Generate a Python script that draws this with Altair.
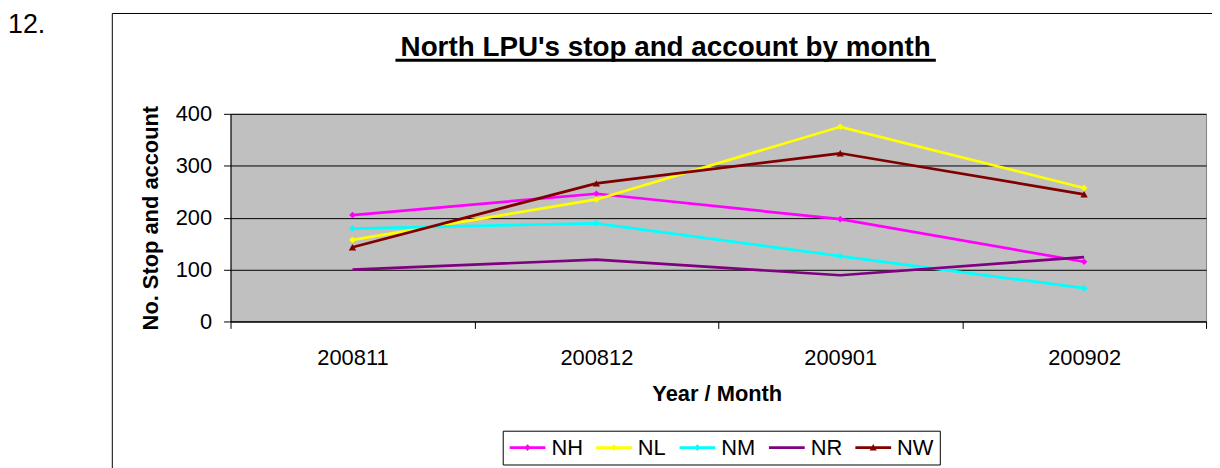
import altair as alt
import pandas as pd

# ---- data ----
months = ["200811", "200812", "200901", "200902"]
series = ["NH", "NL", "NM", "NR", "NW"]
NH = [205, 246, 197, 115]
NL = [157, 235, 375, 257]
NM = [179, 189, 126, 64]
NR = [100, 119, 89, 124]
NW = [143, 266, 324, 245]
colors = ["#FF00FF", "#FFFF00", "#00FFFF", "#800080", "#800000"]
y_ticks = [0, 100, 200, 300, 400]
title_text = "North LPU's stop and account by month"
x_title = "Year / Month"
y_title = "No. Stop and account"
number_label = "12."

values = {"NH": NH, "NL": NL, "NM": NM, "NR": NR, "NW": NW}
rows = []
for s in series:
    for m, v in zip(months, values[s]):
        rows.append({"month": m, "series": s, "value": v})
df = pd.DataFrame(rows)

# one row per series, far outside the y domain, only to feed the legend (clipped)
legend_df = pd.DataFrame({"month": [months[0]] * len(series), "series": series,
                          "value": [-10000] * len(series)})

FONT = "Liberation Sans"

color_scale = alt.Scale(domain=series, range=colors)

# legend symbol shapes (line segment + marker), filled
seg = "M-1.8,-0.13H1.8V0.13H-1.8Z"
diamond = "M0,-0.33L0.33,0L0,0.33L-0.33,0Z"
tri = "M0,-0.36L0.36,0.3L-0.36,0.3Z"
shape_scale = alt.Scale(domain=series,
                        range=[seg + diamond, seg + diamond, seg + diamond, seg, seg + tri])

x_enc = alt.X(
    "month:O",
    sort=months,
    bandPosition=0.5,
    scale=alt.Scale(type="band", paddingInner=0, paddingOuter=0),
    axis=alt.Axis(
        title=x_title,
        labelAngle=0,
        tickBand="extent",
        tickSize=7,
        tickColor="black",
        domainColor="black",
        labelPadding=19,
        labelFont=FONT,
        labelFontSize=22,
        labelColor="black",
        titleFont=FONT,
        titleFontSize=22,
        titleFontWeight="bold",
        titleColor="black",
        titleX=489.5,
        titleY=80,
        titleAlign="center",
        titleBaseline="alphabetic",
        grid=False,
    ),
)
y_enc = alt.Y(
    "value:Q",
    scale=alt.Scale(domain=[0, 400], nice=False),
    axis=alt.Axis(
        title=y_title,
        values=y_ticks,
        tickSize=7,
        tickColor="black",
        domainColor="black",
        labelPadding=12,
        labelFont=FONT,
        labelFontSize=22,
        labelColor="black",
        grid=True,
        gridColor="black",
        gridWidth=1,
        titleFont=FONT,
        titleFontSize=22,
        titleFontWeight="bold",
        titleColor="black",
        titleAngle=270,
        titleX=-74,
        titleY=104.5,
        titleAlign="center",
        titleBaseline="alphabetic",
    ),
)

def make_legend():
    return alt.Legend(
        orient="none",
        legendX=274,
        legendY=319,
        direction="horizontal",
        title=None,
        labelFont=FONT,
        labelFontSize=22,
        labelColor="black",
        symbolSize=400,
        symbolOffset=8,
        symbolStrokeWidth=0,
        symbolOpacity=1,
        labelOffset=13,
        columnPadding=12,
        padding=6,
        strokeColor="black",
    )

base = alt.Chart(df)

lines = base.mark_line(strokeWidth=2.75).encode(
    x=x_enc,
    y=y_enc,
    color=alt.Color("series:N", scale=color_scale, legend=None),
    order=alt.Order("month:O"),
)

diamonds = base.transform_filter(
    alt.FieldOneOfPredicate(field="series", oneOf=["NH", "NL", "NM"])
).mark_point(shape="diamond", filled=True, size=45, opacity=1).encode(
    x=x_enc, y=y_enc, color=alt.Color("series:N", scale=color_scale, legend=None)
)

triangles = base.transform_filter(
    alt.FieldOneOfPredicate(field="series", oneOf=["NW"])
).mark_point(shape="triangle-up", filled=True, size=55, opacity=1).encode(
    x=x_enc, y=y_enc, color=alt.Color("series:N", scale=color_scale, legend=None)
)

legend_layer = alt.Chart(legend_df).mark_point(
    filled=True, opacity=1, clip=True, strokeWidth=0
).encode(
    x=x_enc,
    y=y_enc,
    color=alt.Color("series:N", scale=color_scale, legend=make_legend()),
    shape=alt.Shape("series:N", scale=shape_scale, legend=make_legend()),
)

one = pd.DataFrame({"t": [title_text]})

frame = alt.Chart(pd.DataFrame({"k": [0]})).mark_rect(
    fill="transparent", stroke="black", strokeWidth=1
).encode(
    x=alt.value(-119), x2=alt.value(1000), y=alt.value(-101), y2=alt.value(380)
)

title = alt.Chart(one).mark_text(
    font=FONT, fontSize=28, fontWeight="bold", color="black",
    align="center", baseline="alphabetic",
).encode(text="t:N", x=alt.value(438), y=alt.value(-58))

underline = alt.Chart(one).mark_rule(color="black", strokeWidth=3).encode(
    x=alt.value(166), x2=alt.value(710), y=alt.value(-54)
)

number = alt.Chart(pd.DataFrame({"t": [number_label]})).mark_text(
    font=FONT, fontSize=27, color="black", align="left", baseline="alphabetic"
).encode(text="t:N", x=alt.value(-224), y=alt.value(-81))

chart = alt.layer(
    frame, lines, diamonds, triangles, legend_layer, title, underline, number
).properties(
    width=982,
    height=209,
    background="white",
    autosize=alt.AutoSizeParams(type="none"),
    padding={"left": 224, "top": 105, "right": 6, "bottom": 146},
).resolve_legend(
    color="independent", shape="independent"
).configure_view(
    fill="#C0C0C0", stroke="#808080", strokeWidth=1
)

chart.save("out.html", embed_options={"renderer": "svg", "actions": False})
